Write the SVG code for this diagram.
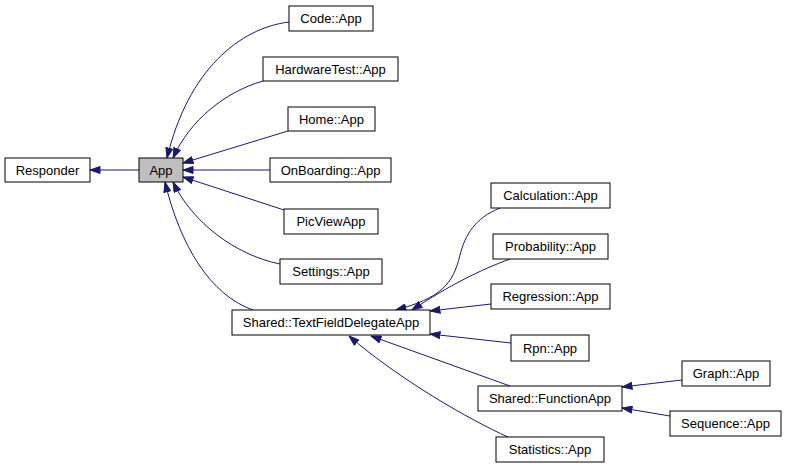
<svg xmlns="http://www.w3.org/2000/svg" width="787" height="468" viewBox="0 0 787 468">
<style>
.n rect{fill:#ffffff;stroke:#000000;stroke-width:1}
.n.sel rect{fill:#bfbfbf}
.n text{font-family:"Liberation Sans",Arial,sans-serif;font-size:13px;text-anchor:middle;fill:#000000}
.e path{fill:none;stroke:#191970;stroke-width:1}
</style>
<defs>
<marker id="ah" viewBox="0 0 11 8" refX="10.5" refY="4" markerWidth="11" markerHeight="8" markerUnits="userSpaceOnUse" orient="auto">
<path d="M0.5,0.5 L10.5,4 L0.5,7.5 z" fill="#191970" stroke="#191970" stroke-width="1"/>
</marker>
</defs>
<rect width="787" height="468" fill="#ffffff"/>
<g id="connectors" class="e">
<path marker-end="url(#ah)" d="M139,170 L90,170"/>
<path marker-end="url(#ah)" d="M289,22 C240,28 188,70 167,158"/>
<path marker-end="url(#ah)" d="M263,81 C225,92 190,120 173,158"/>
<path marker-end="url(#ah)" d="M288,131 L183,163"/>
<path marker-end="url(#ah)" d="M270,170 L183,170"/>
<path marker-end="url(#ah)" d="M284,210 L183,177"/>
<path marker-end="url(#ah)" d="M280,264 C235,255 192,222 173,182"/>
<path marker-end="url(#ah)" d="M253,310 C210,295 180,245 165,182"/>
<path marker-end="url(#ah)" d="M500,208 C475,218 465,235 460,255 C453,285 440,298 396,310"/>
<path marker-end="url(#ah)" d="M510,259 C480,270 450,285 412,310"/>
<path marker-end="url(#ah)" d="M491,304 L430,311"/>
<path marker-end="url(#ah)" d="M511,343 L430,334"/>
<path marker-end="url(#ah)" d="M510,386 L371,336"/>
<path marker-end="url(#ah)" d="M508,437 C470,420 400,380 349,336"/>
<path marker-end="url(#ah)" d="M682,380 L622,387"/>
<path marker-end="url(#ah)" d="M670,416 L622,408"/>
</g>
<g id="responder" class="n"><rect x="5" y="158" width="85" height="24"/><text x="47.5" y="174.5">Responder</text></g>
<g id="app" class="n sel"><rect x="139" y="158" width="44" height="24"/><text x="161" y="174.5">App</text></g>
<g id="code" class="n"><rect x="289" y="6" width="84" height="25"/><text x="331" y="23">Code::App</text></g>
<g id="hardwaretest" class="n"><rect x="263" y="57" width="135" height="24"/><text x="330.5" y="73.5">HardwareTest::App</text></g>
<g id="home" class="n"><rect x="288" y="107" width="87" height="24"/><text x="331.5" y="123.5">Home::App</text></g>
<g id="onboarding" class="n"><rect x="270" y="158" width="121" height="24"/><text x="330.5" y="174.5">OnBoarding::App</text></g>
<g id="picview" class="n"><rect x="284" y="209" width="94" height="25"/><text x="331" y="226">PicViewApp</text></g>
<g id="settings" class="n"><rect x="280" y="259" width="102" height="25"/><text x="331" y="276">Settings::App</text></g>
<g id="tfda" class="n"><rect x="232" y="310" width="198" height="25"/><text x="331" y="327">Shared::TextFieldDelegateApp</text></g>
<g id="calculation" class="n"><rect x="491" y="183" width="119" height="25"/><text x="550.5" y="200">Calculation::App</text></g>
<g id="probability" class="n"><rect x="493" y="234" width="115" height="25"/><text x="550.5" y="251">Probability::App</text></g>
<g id="regression" class="n"><rect x="491" y="284" width="119" height="25"/><text x="550.5" y="301">Regression::App</text></g>
<g id="rpn" class="n"><rect x="511" y="335" width="78" height="26"/><text x="550" y="352.5">Rpn::App</text></g>
<g id="functionapp" class="n"><rect x="478" y="386" width="144" height="25"/><text x="550" y="403">Shared::FunctionApp</text></g>
<g id="statistics" class="n"><rect x="496" y="437" width="108" height="25"/><text x="550" y="454">Statistics::App</text></g>
<g id="graph" class="n"><rect x="682" y="361" width="88" height="25"/><text x="726" y="378">Graph::App</text></g>
<g id="sequence" class="n"><rect x="670" y="411" width="111" height="25"/><text x="725.5" y="428">Sequence::App</text></g>
</svg>
